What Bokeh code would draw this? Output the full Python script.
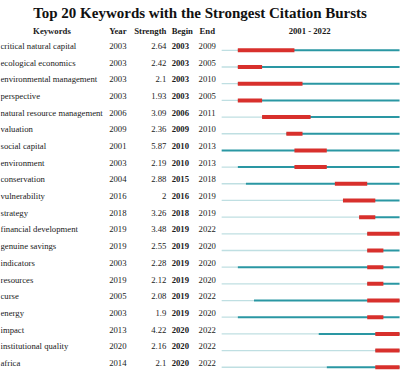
from bokeh.plotting import figure
from bokeh.models import Range1d, ColumnDataSource, Label
from bokeh.core.properties import value
from bokeh.embed import file_html
from bokeh.resources import INLINE

# ---- data ----
keywords = ["critical natural capital", "ecological economics", "environmental management",
            "perspective", "natural resource management", "valuation", "social capital",
            "environment", "conservation", "vulnerability", "strategy", "financial development",
            "genuine savings", "indicators", "resources", "curse", "energy", "impact",
            "institutional quality", "africa"]
year = [2003, 2003, 2003, 2003, 2006, 2009, 2001, 2003, 2004, 2016,
        2018, 2019, 2019, 2003, 2019, 2005, 2003, 2013, 2020, 2014]
strength = [2.64, 2.42, 2.1, 1.93, 3.09, 2.36, 5.87, 2.19, 2.88, 2,
            3.26, 3.48, 2.55, 2.28, 2.12, 2.08, 1.9, 4.22, 2.16, 2.1]
begin = [2003, 2003, 2003, 2003, 2006, 2009, 2010, 2010, 2015, 2016,
         2018, 2019, 2019, 2019, 2019, 2019, 2019, 2020, 2020, 2020]
end = [2009, 2005, 2010, 2005, 2011, 2010, 2013, 2013, 2018, 2019,
       2019, 2022, 2020, 2020, 2020, 2022, 2020, 2022, 2022, 2022]
first_year, last_year = 2001, 2022
title = "Top 20 Keywords with the Strongest Citation Bursts"
headers = ["Keywords", "Year", "Strength", "Begin", "End"]

# ---- layout helpers (reference pixel -> data units) ----
PXY = 8.41      # px per year
X2001 = 230.0   # px of left edge of first year
ROW = 17.4      # px per row
ROW0 = 52.0     # px of first row line


def xd(px):
    return first_year + (px - X2001) / PXY


def yd(py):
    return (py - ROW0) / ROW


RED = "#d8302c"
TEAL = "#2a97a3"
LIGHT = "#bfdfe2"
TXT = "#1a1a1a"
FONT = value("Liberation Serif")
FS = "8.7px"

n = len(keywords)
rows = list(range(n))

p = figure(width=400, height=370, output_backend="svg", toolbar_location=None,
           x_range=Range1d(xd(0), xd(416)), y_range=Range1d(yd(386), yd(0)),
           x_axis_location=None, y_axis_location=None, min_border=0,
           outline_line_color=None, background_fill_color="white",
           border_fill_color="white")
p.grid.visible = False

src = ColumnDataSource(dict(
    kw=keywords,
    yr=[str(v) for v in year],
    st=[f"{v:g}" for v in strength],
    bg=[str(v) for v in begin],
    en=[str(v) for v in end],
    row=rows,
    ty=[r - 0.26 for r in rows],
    x_first=[first_year] * n,
    x_year=year,
    x_last=[last_year + 1] * n,
    x_b=begin,
    x_e=[e + 1 for e in end],
))

# bars
p.segment(x0="x_first", y0="row", x1="x_year", y1="row", source=src,
          line_color=LIGHT, line_width=1.3)
p.segment(x0="x_year", y0="row", x1="x_last", y1="row", source=src,
          line_color=TEAL, line_width=2)
p.segment(x0="x_b", y0="row", x1="x_e", y1="row", source=src,
          line_color=RED, line_width=4)

# table texts
p.text(x=xd(0), y="ty", text="kw", source=src, text_font=FONT, text_font_size=FS,
       text_align="left", text_baseline="middle", text_color=TXT)
p.text(x=xd(113), y="ty", text="yr", source=src, text_font=FONT, text_font_size=FS,
       text_align="left", text_baseline="middle", text_color=TXT)
p.text(x=xd(172.5), y="ty", text="st", source=src, text_font=FONT, text_font_size=FS,
       text_align="right", text_baseline="middle", text_color=TXT)
p.text(x=xd(178), y="ty", text="bg", source=src, text_font=FONT, text_font_size=FS,
       text_align="left", text_baseline="middle", text_color=TXT, text_font_style="bold")
p.text(x=xd(206), y="ty", text="en", source=src, text_font=FONT, text_font_size=FS,
       text_align="left", text_baseline="middle", text_color=TXT)

# headers
hx = [(53.5, "center"), (113, "left"), (172.5, "right"), (178, "left"), (207, "left")]
for h, (px, al) in zip(headers, hx):
    p.add_layout(Label(x=xd(px), y=yd(32), text=h, text_font="Liberation Serif",
                       text_font_size=FS, text_font_style="bold", text_align=al,
                       text_baseline="middle", text_color=TXT))
p.add_layout(Label(x=xd(321.5), y=yd(32), text=f"{first_year} - {last_year}",
                   text_font="Liberation Serif", text_font_size=FS, text_font_style="bold",
                   text_align="center", text_baseline="middle", text_color=TXT))
p.add_layout(Label(x=xd(207.5), y=yd(13), text=title, text_font="Liberation Serif",
                   text_font_size="15px", text_font_style="bold", text_align="center",
                   text_baseline="middle", text_color="#111111"))

open("out.html", "w").write(file_html(p, INLINE))
